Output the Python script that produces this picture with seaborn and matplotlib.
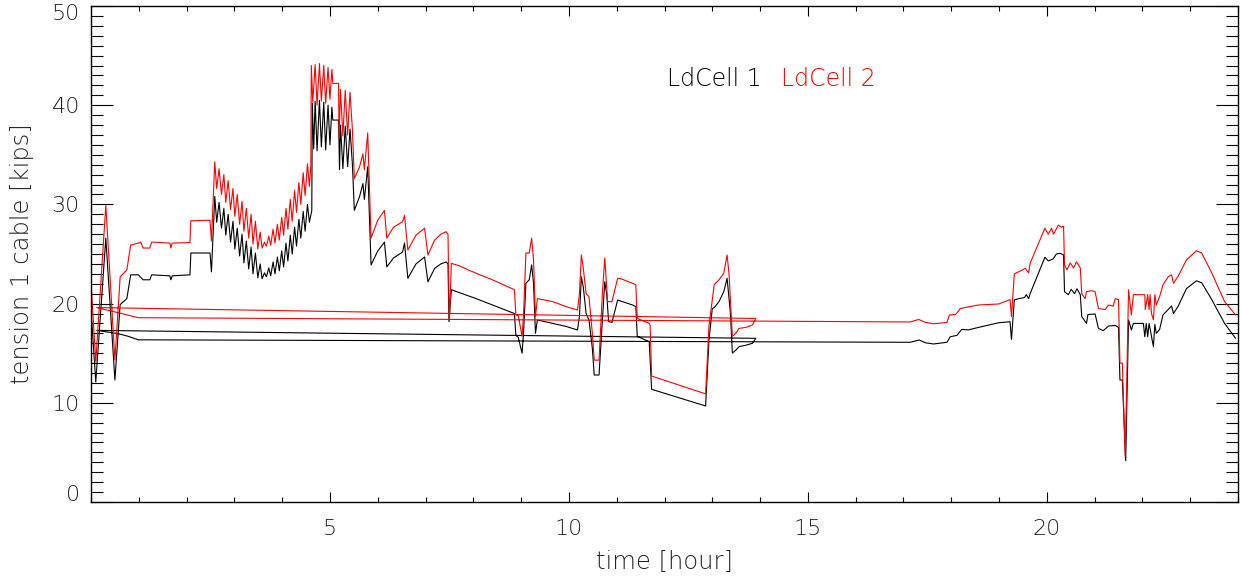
import pandas as pd
import seaborn as sns
import matplotlib.pyplot as plt
from matplotlib.ticker import MultipleLocator
from matplotlib.transforms import ScaledTranslation

# LdCell 1 (black): first pass 0 - 13.9 h
cell1_time_a = [0.00, 0.10, 0.31, 0.50, 0.61, 0.75, 0.83, 0.99, 1.09, 1.23,
                1.27, 1.65, 1.67, 1.70, 2.07, 2.09, 2.49, 2.52,
                2.59, 2.63, 2.68, 2.73, 2.78, 2.82, 2.87, 2.92, 2.97, 3.01,
                3.06, 3.11, 3.16, 3.20, 3.25, 3.30, 3.35, 3.39, 3.44, 3.49,
                3.54, 3.58, 3.63, 3.67, 3.72, 3.76, 3.81, 3.85, 3.90, 3.94,
                3.99, 4.03, 4.08, 4.12, 4.17, 4.21, 4.26, 4.30, 4.35, 4.39,
                4.44, 4.48, 4.53, 4.57, 4.62,
                4.63, 4.66, 4.69, 4.73, 4.78, 4.82, 4.87, 4.91, 4.96, 5.00,
                5.04, 5.06, 5.18, 5.20, 5.22, 5.27, 5.32, 5.37, 5.42, 5.47,
                5.51, 5.62, 5.69, 5.72, 5.79, 5.86,
                6.00, 6.14, 6.19, 6.33, 6.52, 6.56, 6.63, 6.80, 6.98, 7.05,
                7.19, 7.32, 7.43, 7.47,
                7.49, 7.54, 7.71, 8.06, 8.40, 8.86, 8.89, 8.94, 9.02, 9.05,
                9.10, 9.17, 9.22, 9.26, 9.30, 9.34, 9.66, 9.94, 10.18, 10.22,
                10.26, 10.30, 10.36, 10.42, 10.49, 10.53, 10.63, 10.70, 10.75, 10.79,
                10.83, 10.90, 11.02, 11.33, 11.40, 11.43, 11.68, 11.73, 12.86, 12.93,
                13.00, 13.04, 13.14, 13.24, 13.31, 13.38, 13.42, 13.49, 13.56, 13.70,
                13.84, 13.91]
cell1_load_a = [19.4, 12.1, 26.6, 12.3, 19.9, 20.5, 22.9, 22.9, 22.4, 22.4,
                22.9, 22.8, 22.4, 22.8, 22.9, 25.1, 25.1, 23.2,
                30.8, 28.2, 30.2, 27.6, 29.6, 26.9, 29.0, 26.2, 28.3, 25.5,
                27.6, 24.8, 27.0, 24.1, 26.3, 23.5, 25.7, 23.0, 25.1, 22.6,
                24.0, 22.5, 23.1, 22.7, 23.6, 22.8, 24.2, 23.0, 24.7, 23.3,
                25.3, 23.7, 26.1, 24.3, 26.9, 25.0, 27.7, 25.8, 28.5, 26.6,
                29.3, 27.3, 30.0, 28.2, 29.4,
                40.2, 35.6, 40.4, 35.4, 40.5, 35.8, 40.3, 35.5, 40.0, 36.0,
                39.8, 38.5, 38.5, 33.5, 38.0, 33.6, 37.9, 33.8, 37.6, 34.0,
                29.4, 30.8, 32.1, 30.5, 33.8, 23.9,
                25.3, 26.2, 23.7, 24.6, 25.2, 26.1, 22.55, 24.0, 24.7, 22.2,
                23.55, 24.0, 24.2, 24.0,
                18.2, 21.4, 21.1, 20.5, 19.86, 19.0, 16.8, 16.6, 15.0, 17.0,
                22.05, 22.4, 23.9, 22.0, 17.0, 18.35, 18.0, 17.7, 17.34, 18.7,
                22.7, 21.7, 19.0, 18.35, 15.5, 12.8, 12.8, 18.35, 22.2, 21.0,
                18.2, 18.1, 20.36, 19.86, 19.7, 16.7, 16.16, 11.36, 9.68, 16.3,
                19.5, 19.6, 20.2, 21.2, 22.55, 19.0, 15.0, 15.3, 15.66, 15.8,
                16.0, 16.5]

# LdCell 1 (black): second pass, wraps back to morning then 17 - 24 h
cell1_time_b = [0.12, 0.57, 0.78, 0.99, 17.14, 17.33, 17.46, 17.63, 17.91, 17.98,
                18.12, 18.22, 18.36, 18.57, 18.99, 19.23, 19.26, 19.32, 19.41, 19.53,
                19.57, 19.62, 19.65, 19.96, 20.03, 20.13, 20.20, 20.28, 20.35, 20.37,
                20.45, 20.51, 20.58, 20.63, 20.70, 20.73, 20.83, 20.86, 21.01, 21.08,
                21.18, 21.29, 21.43, 21.50, 21.53, 21.58, 21.65, 21.71, 21.77, 21.81,
                22.02, 22.05, 22.08, 22.11, 22.14, 22.23, 22.26, 22.29, 22.36, 22.43,
                22.61, 22.65, 22.75, 22.92, 23.13, 23.24, 23.44, 23.72, 23.95]
cell1_load_b = [17.3, 16.97, 16.7, 16.35, 16.1, 16.33, 16.05, 15.93, 16.1, 16.66,
                16.8, 17.4, 17.35, 17.6, 18.07, 18.17, 16.4, 20.36, 20.5, 20.6,
                20.9, 20.5, 21.0, 24.67, 24.3, 24.5, 25.0, 25.07, 24.9, 21.2,
                20.9, 21.44, 21.0, 21.5, 20.9, 18.7, 18.0, 18.9, 18.95, 17.5,
                17.27, 17.74, 17.8, 17.6, 12.3, 12.3, 4.16, 18.35, 17.34, 18.0,
                18.0, 16.66, 18.0, 16.66, 18.0, 15.66, 17.9, 17.0, 17.4, 18.85,
                19.76, 19.0, 19.76, 21.5, 22.3, 22.1, 20.5, 18.0, 16.5]

# LdCell 2 (red): first pass 0 - 13.9 h
cell2_time_a = [0.00, 0.10, 0.31, 0.50, 0.61, 0.75, 0.83, 0.99, 1.04, 1.09,
                1.23, 1.27, 1.65, 1.67, 1.70, 2.07, 2.09, 2.49, 2.52,
                2.59, 2.63, 2.68, 2.73, 2.78, 2.82, 2.87, 2.92, 2.97, 3.01,
                3.06, 3.11, 3.16, 3.20, 3.25, 3.30, 3.35, 3.39, 3.44, 3.49,
                3.54, 3.58, 3.63, 3.67, 3.72, 3.76, 3.81, 3.85, 3.90, 3.94,
                3.99, 4.03, 4.08, 4.12, 4.17, 4.21, 4.26, 4.30, 4.35, 4.39,
                4.44, 4.48, 4.53, 4.57, 4.60,
                4.61, 4.64, 4.69, 4.73, 4.78, 4.82, 4.87, 4.91, 4.96, 5.00,
                5.04, 5.06, 5.18, 5.19, 5.22, 5.27, 5.32, 5.37, 5.42, 5.47,
                5.51, 5.62, 5.69, 5.72, 5.79, 5.86,
                6.00, 6.14, 6.19, 6.33, 6.52, 6.56, 6.63, 6.80, 6.98, 7.05,
                7.19, 7.32, 7.43, 7.47,
                7.49, 7.50, 7.54, 7.71, 8.06, 8.40, 8.86, 8.89, 8.94, 9.02,
                9.05, 9.10, 9.17, 9.22, 9.26, 9.30, 9.34, 9.66, 9.94, 10.18,
                10.22, 10.26, 10.30, 10.36, 10.42, 10.49, 10.53, 10.63, 10.70, 10.75,
                10.81, 10.90, 11.02, 11.09, 11.33, 11.40, 11.43, 11.68, 11.70, 11.73,
                12.86, 12.93, 13.04, 13.14, 13.24, 13.31, 13.35, 13.42, 13.49, 13.56,
                13.70, 13.84, 13.91]
cell2_load_a = [22.2, 14.1, 29.9, 14.3, 22.7, 23.4, 25.9, 26.1, 26.2, 25.6,
                25.6, 26.2, 26.1, 25.6, 26.1, 26.15, 28.35, 28.4, 26.3,
                34.3, 31.6, 33.6, 31.0, 33.0, 30.2, 32.4, 29.5, 31.6, 28.8,
                31.0, 28.0, 30.3, 27.3, 29.6, 26.6, 29.0, 26.0, 28.3, 25.5,
                27.2, 25.6, 26.2, 25.8, 26.8, 25.9, 27.5, 26.1, 28.0, 26.4,
                28.7, 26.9, 29.6, 27.5, 30.5, 28.3, 31.4, 29.2, 32.2, 30.0,
                33.2, 30.9, 34.1, 31.8, 34.0,
                44.0, 40.3, 44.1, 40.0, 44.2, 40.4, 44.0, 40.2, 43.8, 40.6,
                43.6, 42.2, 42.2, 36.7, 41.6, 36.9, 41.5, 37.0, 41.3, 37.5,
                32.6, 33.8, 35.1, 33.5, 37.2, 26.6,
                28.4, 29.4, 26.6, 27.7, 28.25, 28.9, 25.4, 26.9, 27.6, 24.9,
                26.4, 27.0, 27.25, 27.0,
                20.4, 18.2, 24.06, 23.8, 23.05, 22.4, 21.4, 18.85, 18.8, 16.7,
                18.8, 25.1, 25.1, 26.6, 24.4, 18.7, 20.5, 20.2, 19.7, 19.35,
                21.0, 24.9, 23.6, 21.0, 20.7, 17.0, 14.3, 14.3, 21.0, 24.6,
                20.2, 20.2, 22.55, 22.5, 22.05, 21.9, 18.5, 18.0, 17.8, 12.7,
                10.9, 17.7, 21.9, 22.4, 23.05, 24.9, 23.0, 16.7, 17.0, 17.5,
                17.6, 17.84, 18.5]

# LdCell 2 (red): second pass
cell2_time_b = [0.12, 0.57, 0.99, 17.14, 17.32, 17.46, 17.63, 17.91, 17.96, 18.09,
                18.19, 18.29, 18.57, 18.99, 19.23, 19.26, 19.32, 19.41, 19.55, 19.62,
                19.65, 19.96, 20.03, 20.10, 20.14, 20.24, 20.31, 20.35, 20.37, 20.42,
                20.49, 20.56, 20.62, 20.70, 20.73, 20.80, 20.83, 20.94, 21.01, 21.08,
                21.22, 21.29, 21.39, 21.43, 21.50, 21.53, 21.58, 21.64, 21.71, 21.77,
                21.81, 22.05, 22.06, 22.11, 22.14, 22.16, 22.19, 22.23, 22.26, 22.29,
                22.36, 22.43, 22.54, 22.61, 22.65, 22.75, 22.92, 23.13, 23.24, 23.44,
                23.72, 23.95]
cell2_load_b = [19.6, 19.08, 18.58, 18.15, 18.4, 18.1, 17.97, 18.1, 18.85, 18.9,
                19.5, 19.6, 19.86, 19.96, 20.4, 18.7, 23.0, 23.2, 23.55, 23.1,
                24.06, 27.6, 27.0, 27.6, 27.0, 27.9, 27.7, 27.8, 23.9, 23.4,
                24.1, 23.6, 24.2, 23.6, 21.0, 20.5, 21.2, 21.3, 21.2, 19.5,
                19.4, 19.86, 19.75, 20.5, 20.4, 14.0, 14.0, 4.6, 21.4, 18.85,
                20.9, 20.9, 19.4, 20.9, 19.4, 20.9, 19.0, 18.35, 20.9, 19.86,
                20.7, 21.9, 22.7, 22.9, 22.05, 22.78, 24.4, 25.33, 25.1, 23.2,
                20.2, 18.85]

cells = ["LdCell 1", "LdCell 2"]
colors = ["black", "red"]

frames = []
for name, ta, va, tb, vb in [(cells[0], cell1_time_a, cell1_load_a, cell1_time_b, cell1_load_b),
                             (cells[1], cell2_time_a, cell2_load_a, cell2_time_b, cell2_load_b)]:
    t = ta + tb
    frames.append(pd.DataFrame({"time": t, "tension": va + vb, "cell": name,
                                "step": range(len(t))}))
data = pd.concat(frames, ignore_index=True)

sns.set_style("ticks")
plt.rcParams["font.family"] = ["DejaVu Sans"]
plt.rcParams["font.weight"] = "light"
plt.rcParams["axes.labelweight"] = "light"
txt_color = "#222222"

fig = plt.figure(figsize=(12.41, 5.83), dpi=100)
ax = fig.add_axes([91 / 1241, 81 / 583, 1147 / 1241, 496 / 583])

sns.lineplot(data=data, x="time", y="tension", hue="cell", hue_order=cells,
             palette=colors, estimator=None, sort=False, linewidth=0.8,
             legend=False, ax=ax)

ax.set_xlim(0, 24)
ax.set_ylim(0, 50)
ax.set_xticks([5, 10, 15, 20])
ax.set_yticks([0, 10, 20, 30, 40, 50])
ax.xaxis.set_minor_locator(MultipleLocator(1))
ax.yaxis.set_minor_locator(MultipleLocator(1))

ax.tick_params(which="both", direction="in", top=True, right=True,
               width=0.8, color="black", labelsize=16, labelcolor=txt_color)
ax.tick_params(axis="x", which="major", length=7, pad=12)
ax.tick_params(axis="x", which="minor", length=3.5)
ax.tick_params(axis="y", which="major", length=16, pad=8)
ax.tick_params(axis="y", which="minor", length=8.5)
for s in ax.spines.values():
    s.set_linewidth(1.0)
    s.set_color("black")

# IDL keeps the end labels inside the frame
yt = ax.yaxis.get_major_ticks()
yt[0].label1.set_transform(yt[0].label1.get_transform() + ScaledTranslation(0, 0.09, fig.dpi_scale_trans))
yt[-1].label1.set_transform(yt[-1].label1.get_transform() + ScaledTranslation(0, -0.06, fig.dpi_scale_trans))

ax.set_xlabel("time [hour]", fontsize=17.5, color=txt_color, va="center", fontweight="light")
ax.xaxis.set_label_coords(0.5, -0.121)
ax.set_ylabel("tension 1 cable [kips]", fontsize=17.5, color=txt_color, va="center", fontweight="light")
ax.yaxis.set_label_coords(-0.060, 0.5)

# legend as coloured text
ax.text(0.502, 0.839, cells[0], transform=ax.transAxes, color=colors[0],
        fontsize=17, va="baseline")
ax.text(0.602, 0.839, cells[1], transform=ax.transAxes, color=colors[1],
        fontsize=17, va="baseline")

fig.savefig("out.png", dpi=100)
